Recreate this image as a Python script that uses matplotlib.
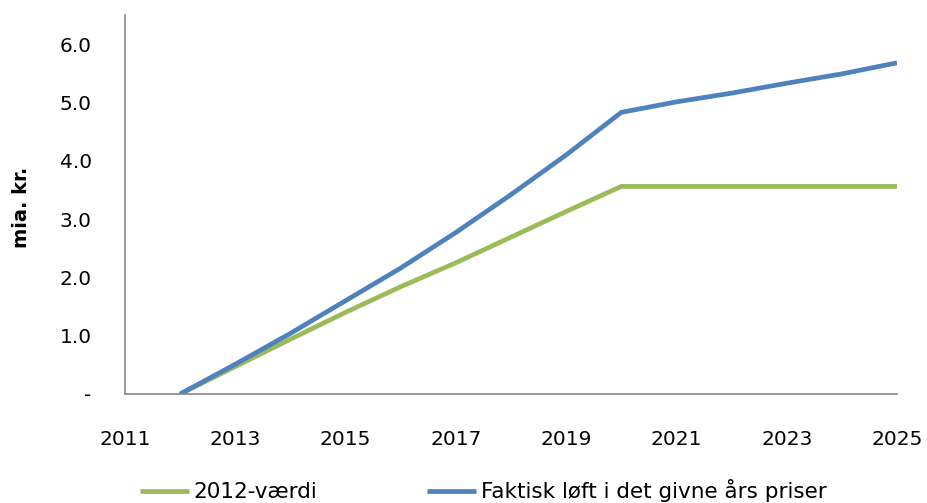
import matplotlib
matplotlib.use("Agg")
import matplotlib.pyplot as plt

years = [2012, 2013, 2014, 2015, 2016, 2017, 2018, 2019, 2020, 2021, 2022, 2023, 2024, 2025]
vaerdi_2012 = [0.0, 0.47, 0.94, 1.40, 1.84, 2.25, 2.69, 3.13, 3.56, 3.56, 3.56, 3.56, 3.56, 3.56]
faktisk = [0.0, 0.51, 1.04, 1.60, 2.16, 2.77, 3.42, 4.10, 4.83, 5.01, 5.16, 5.33, 5.49, 5.68]
x_ticks = [2011, 2013, 2015, 2017, 2019, 2021, 2023, 2025]
y_ticks = [0, 1, 2, 3, 4, 5, 6]
y_ticklabels = ["-", "1.0", "2.0", "3.0", "4.0", "5.0", "6.0"]
series_labels = ["2012-værdi", "Faktisk løft i det givne års priser"]
y_label = "mia. kr."

plt.rcParams['font.family'] = ['DejaVu Sans']
fig = plt.figure(figsize=(9.27, 5.03), dpi=100)
ax = fig.add_axes([125/927, 1-394/503, (897-125)/927, (394-15)/503])

ax.plot(years, vaerdi_2012, color="#9BBB59", lw=3.4, label=series_labels[0], solid_capstyle='butt')
ax.plot(years, faktisk, color="#4F81BD", lw=3.4, label=series_labels[1], solid_capstyle='butt')

ax.set_xlim(2011, 2025)
ax.set_ylim(0, 6.5)
ax.set_xticks(x_ticks)
ax.set_xticklabels([str(t) for t in x_ticks], fontsize=14.5)
ax.set_yticks(y_ticks)
ax.set_yticklabels(y_ticklabels, fontsize=14.5)
ax.tick_params(axis='x', length=0, pad=26)
ax.tick_params(axis='y', length=0, pad=24)
for s in ["top", "right"]:
    ax.spines[s].set_visible(False)
for s in ["left", "bottom"]:
    ax.spines[s].set_color("#868686")
    ax.spines[s].set_linewidth(1.2)
ax.set_ylabel(y_label, fontsize=14, fontweight='bold')
ax.yaxis.set_label_coords(-(125-31)/772, (394-207)/379)

fig.legend(loc='center', bbox_to_anchor=(483/927, 1-491/503), ncol=2, frameon=False,
           fontsize=15.5, handlelength=2.3, handletextpad=0.2, columnspacing=5.1)

fig.savefig("out.png", dpi=100)
